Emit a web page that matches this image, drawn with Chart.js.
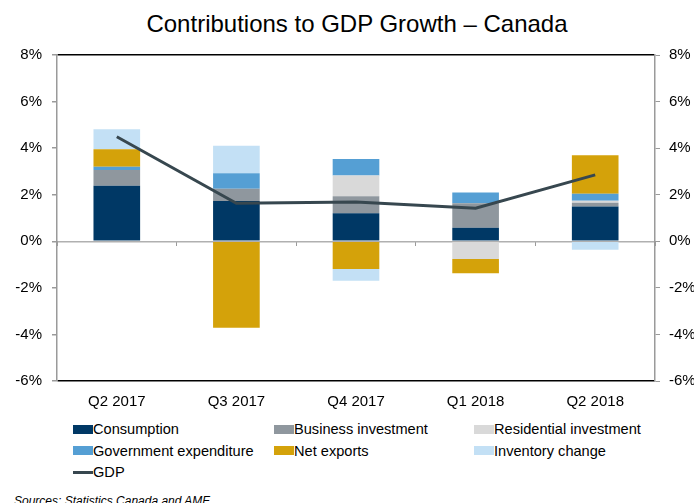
<!DOCTYPE html>
<html>
<head>
<meta charset="utf-8">
<script src="https://cdn.jsdelivr.net/npm/chart.js@4/dist/chart.umd.min.js"></script>
<style>
  body { margin: 0; background: #fff; font-family: "Liberation Sans", Arial, sans-serif; }
  #wrap { position: relative; width: 694px; height: 503px; overflow: hidden; }
  #title { position: absolute; top: 10px; left: 0; width: 714px; text-align: center; font-size: 24px; color: #000; }
  #chart { position: absolute; top: 0; left: 0; }
  #legend { position: absolute; top: 420px; left: 73px; }
  .item { position: absolute; white-space: nowrap; font-size: 14.6px; color: #000; line-height: 18px; }
  .swatch { display: inline-block; width: 20px; vertical-align: middle; margin-right: 0; position: relative; top: -1px; }
  #source { position: absolute; left: 14px; top: 494px; font-size: 12px; font-style: italic; color: #000; }
</style>
</head>
<body>
<div id="wrap">
  <div id="title">Contributions to GDP Growth – Canada</div>
  <canvas id="chart" width="694" height="415"></canvas>
  <div id="legend"></div>
  <div id="source">Sources: Statistics Canada and AMF</div>
</div>
<script>
const quarters = ['Q2 2017', 'Q3 2017', 'Q4 2017', 'Q1 2018', 'Q2 2018'];

// contributions, percentage points
const consumption = [2.39, 1.73, 1.20, 0.58, 1.49];
const businessInvestment = [0.67, 0.53, 0.73, 1.05, 0.17];
const residentialInvestment = [0, 0, 0.90, -0.76, 0.08];
const governmentExpenditure = [0.14, 0.66, 0.70, 0.47, 0.30];
const netExports = [0.75, -3.71, -1.19, -0.61, 1.65];
const inventoryChange = [0.86, 1.18, -0.51, 0, -0.36];
const gdp = [4.49, 1.63, 1.69, 1.42, 2.85];

const yTicks = [-6, -4, -2, 0, 2, 4, 6, 8];

const fontFamily = '"Liberation Sans", Arial, sans-serif';
const axisGray = '#9a9a9a';

function bar(label, data, color) {
  return {
    type: 'bar', label, data,
    backgroundColor: color,
    borderWidth: 0,
    stack: 'parts',
    xAxisID: 'x', yAxisID: 'y',
    barPercentage: 0.39,
    categoryPercentage: 1,
    order: 2
  };
}

const datasets = [
  bar('Consumption', consumption, '#003865'),
  bar('Business investment', businessInvestment, '#8f979e'),
  bar('Residential investment', residentialInvestment, '#d9d9d9'),
  bar('Government expenditure', governmentExpenditure, '#559fd4'),
  bar('Net exports', netExports, '#d4a20a'),
  bar('Inventory change', inventoryChange, '#c3e0f5'),
  {
    type: 'line', label: 'GDP', data: gdp,
    borderColor: '#37474f', borderWidth: 3,
    pointRadius: 0, tension: 0,
    stack: 'gdp', xAxisID: 'x', yAxisID: 'y',
    order: 1
  }
];

function pct(v) { return v + '%'; }

const chart = new Chart(document.getElementById('chart'), {
  data: { labels: quarters, datasets },
  options: {
    responsive: false,
    animation: false,
    layout: { padding: { top: 55, left: 0, right: 0, bottom: 0 } },
    plugins: { legend: { display: false }, tooltip: { enabled: false } },
    scales: {
      x: {
        type: 'category',
        position: 'bottom',
        stacked: true,
        offset: true,
        grid: { display: false, drawTicks: false },
        border: { display: false },
        ticks: { padding: 12, color: '#000', font: { family: fontFamily, size: 15 } },
        afterFit: s => { s.height = 34; }
      },
      // small marks on the zero line between quarters
      xz: {
        type: 'category',
        position: { y: 0 },
        offset: true,
        grid: { offset: true, drawOnChartArea: false, drawTicks: true, tickLength: 5, color: axisGray },
        border: { display: false },
        ticks: { display: false }
      },
      y: {
        position: 'left',
        stacked: true,
        min: -6, max: 8,
        afterBuildTicks: s => { s.ticks = yTicks.map(v => ({ value: v })); },
        grid: {
          color: c => {
            if (!c.tick) return 'transparent';
            if (c.tick.value === 8 || c.tick.value === -6) return '#000';
            if (c.tick.value === 0) return '#b0b0b0';
            return 'transparent';
          },
          lineWidth: 1.5,
          tickColor: axisGray,
          tickLength: 5
        },
        border: { color: axisGray, width: 1.5 },
        ticks: { padding: 10, color: '#000', font: { family: fontFamily, size: 15 }, callback: pct },
        afterFit: s => { s.width = 57; }
      },
      y2: {
        position: 'right',
        min: -6, max: 8,
        afterBuildTicks: s => { s.ticks = yTicks.map(v => ({ value: v })); },
        grid: { drawOnChartArea: false, color: axisGray, tickLength: 5 },
        border: { color: axisGray, width: 1.5 },
        ticks: { padding: 9, color: '#000', font: { family: fontFamily, size: 15 }, callback: pct },
        afterFit: s => { s.width = 39; }
      }
    }
  }
});

// legend in three columns, built from the datasets
const legend = document.getElementById('legend');
const colX = [0, 201, 401];
datasets.forEach((d, i) => {
  const el = document.createElement('div');
  el.className = 'item';
  el.style.left = colX[i % 3] + 'px';
  el.style.top = (Math.floor(i / 3) * 21.7) + 'px';
  const sw = document.createElement('span');
  sw.className = 'swatch';
  if (d.type === 'line') {
    sw.style.height = '3px';
    sw.style.background = d.borderColor;
  } else {
    sw.style.height = '9px';
    sw.style.background = d.backgroundColor;
  }
  el.appendChild(sw);
  el.appendChild(document.createTextNode(d.label));
  legend.appendChild(el);
});
</script>
</body>
</html>
